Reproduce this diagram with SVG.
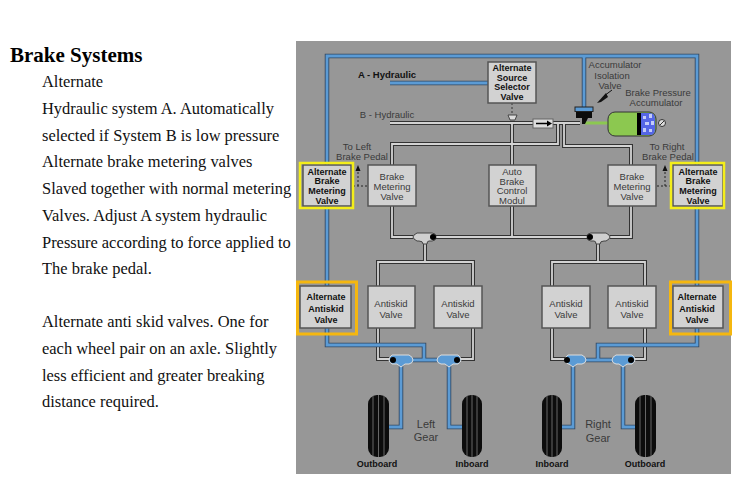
<svg xmlns="http://www.w3.org/2000/svg" width="743" height="487" viewBox="0 0 743 487">
<style>
.t{font-family:"Liberation Serif",serif;font-size:16.45px;fill:#111}
.l{font-family:"Liberation Sans",Arial,sans-serif;font-size:9.5px;fill:#3a3a3a;text-anchor:middle}
.b{font-family:"Liberation Sans",Arial,sans-serif;font-size:9px;fill:#111;text-anchor:middle;font-weight:bold}
.box{fill:#d2d2d2;stroke:#555;stroke-width:1.5}
.po{fill:none;stroke:#333;stroke-width:4}
.pi{fill:none;stroke:#d4d4d4;stroke-width:1.8}
.bo{fill:none;stroke:#33465e;stroke-width:4.5}
.bi{fill:none;stroke:#5b9bd5;stroke-width:2.8}
.yel{fill:none;stroke:#f4ee1a;stroke-width:2.5}
.amb{fill:none;stroke:#f5b70f;stroke-width:3}
.wh{fill:#0c0c0c}
.gr{stroke:#666;stroke-width:1}
.sh{fill:#cfcfcf;stroke:#444}
.sb{fill:#5b9bd5;stroke:#ddd}
</style>
<rect width="743" height="487" fill="#fff"/>
<g id="text">
<text x="10" y="62" style="font-family:'Liberation Serif',serif;font-size:21px;font-weight:bold;fill:#000">Brake Systems</text>
<text class="t" x="42" y="87">Alternate</text>
<text class="t" x="42" y="114">Hydraulic system A. Automatically</text>
<text class="t" x="42" y="141">selected if System B is low pressure</text>
<text class="t" x="42" y="167">Alternate brake metering valves</text>
<text class="t" x="42" y="194">Slaved together with normal metering</text>
<text class="t" x="42" y="221">Valves. Adjust A system hydraulic</text>
<text class="t" x="42" y="248">Pressure according to force applied to</text>
<text class="t" x="42" y="274">The brake pedal.</text>
<text class="t" x="42" y="327">Alternate anti skid valves. One for</text>
<text class="t" x="42" y="354">each wheel pair on an axle. Slightly</text>
<text class="t" x="42" y="381">less efficient and greater breaking</text>
<text class="t" x="42" y="407">distance required.</text>
</g>
<rect x="296" y="41" width="435" height="433" fill="#979797"/>
<g id="connectors">
<path class="po" d="M390 123H580M392 165V144H558V123M564 123V146H631V165M512 123V165M392 206V237H413M436 237H587M610 237H631V206M512 206V237M425 240V262M598 240V262M378 286V262H473V286M552 286V262H645V286M378 328V359H392M473 328V359H458M552 328V359H568M645 328V359H630"/>
<path class="pi" d="M390 123H580M392 165V144H558V123M564 123V146H631V165M512 123V165M392 206V237H413M436 237H587M610 237H631V206M512 206V237M425 240V262M598 240V262M378 286V262H473V286M552 286V262H645V286M378 328V359H392M473 328V359H458M552 328V359H568M645 328V359H630"/>
<path class="bo" d="M327 165V56H697V165M327 206V286M697 206V286M327 328V345H424V360H412M424 360H438M697 328V345H598V360H585M598 360H614M390 83H488M584 56V108M401 362V427H389M449 362V427H462M573 362V427H562M623 362V427H635"/>
<path class="bi" d="M327 165V56H697V165M327 206V286M697 206V286M327 328V345H424V360H412M424 360H438M697 328V345H598V360H585M598 360H614M390 83H488M584 56V108M401 362V427H389M449 362V427H462M573 362V427H562M623 362V427H635"/>
<path d="M512 103V114" stroke="#333" stroke-dasharray="2 2" fill="none"/>
<path d="M508 115H517L515 120H510Z" fill="#ddd" stroke="#444"/>
<path d="M353 186H368M358 186V169M671 186H656M665 186V169" stroke="#222" stroke-dasharray="2 2" fill="none"/>
<path d="M358 165L355.500 171H360.500ZM665 165L662.500 171H667.500Z" fill="#111"/>
<path d="M585 123H610" stroke="#8cc850" stroke-width="3"/>
<path d="M612 90L604 96" stroke="#111"/>
<path d="M606 93L597 103L601 102L608 97Z" fill="#111"/>
</g>
<g id="accumulator">
<rect x="608" y="112" width="48" height="24" rx="7" fill="#8cc850" stroke="#333"/>
<path d="M641 113H650Q655 113 655 119V129Q655 135 650 135H641Z" fill="#5566e6"/>
<path d="M643 116h3v3h-3zM649 114h3v4h-3zM645 122h4v3h-4zM651 121h3v4h-3zM643 128h3v4h-3zM649 129h3v3h-3z" fill="#c4ccf8"/>
<rect x="637" y="113" width="4" height="22" fill="#000"/>
<circle cx="662" cy="123" r="3.500" fill="#ddd" stroke="#333"/>
<path d="M660 125L664 121" stroke="#333"/>
</g>
<g id="isolation-valve">
<rect x="575" y="107" width="18" height="4.500" fill="#5b9bd5" stroke="#222"/>
<path d="M576 112H592V118H588L585 124H582V118H576Z" fill="#0c0c0c"/>
</g>
<g id="check-valve">
<rect x="533" y="119" width="20" height="9" fill="#ddd" stroke="#666"/>
<path d="M536 123.500H548" stroke="#000" stroke-width="1.500"/>
<path d="M547 120.500L552 123.500L547 126.500Z" fill="#000"/>
</g>
<g id="selector">
<rect class="box" x="488" y="62" width="48" height="41"/>
<text class="b" x="512" y="71">Alternate</text><text class="b" x="512" y="80.500">Source</text><text class="b" x="512" y="90">Selector</text><text class="b" x="512" y="100">Valve</text>
</g>
<g id="labels">
<text class="b" x="387" y="78" style="font-size:9.500px">A - Hydraulic</text>
<text class="l" x="387" y="118">B - Hydraulic</text>
<text class="l" x="357" y="150">To Left</text><text class="l" x="362" y="160">Brake Pedal</text>
<text class="l" x="615" y="68">Accumulator</text><text class="l" x="612" y="78.500">Isolation</text><text class="l" x="610" y="88.500">Valve</text>
<text class="l" x="658" y="96">Brake Pressure</text><text class="l" x="656" y="106">Accumulator</text>
<text class="l" x="667" y="150">To Right</text><text class="l" x="668" y="160">Brake Pedal</text>
<text class="l" x="426" y="428" style="font-size:11px">Left</text><text class="l" x="426" y="441" style="font-size:11px">Gear</text>
<text class="l" x="598" y="428" style="font-size:11px">Right</text><text class="l" x="598" y="442" style="font-size:11px">Gear</text>
<text class="b" x="377" y="467">Outboard</text><text class="b" x="472" y="467">Inboard</text>
<text class="b" x="552" y="467">Inboard</text><text class="b" x="645" y="467">Outboard</text>
</g>
<g id="alt-brake-left">
<rect class="box" x="303" y="165" width="48" height="41"/>
<rect class="yel" x="300" y="163" width="53" height="45"/>
<text class="b" x="327" y="174.500">Alternate</text><text class="b" x="327" y="184">Brake</text><text class="b" x="327" y="194">Metering</text><text class="b" x="327" y="203.500">Valve</text>
</g>
<g id="alt-brake-right">
<rect class="box" x="673" y="165" width="50" height="41"/>
<rect class="yel" x="671" y="163" width="53" height="45"/>
<text class="b" x="698" y="174.500">Alternate</text><text class="b" x="698" y="184">Brake</text><text class="b" x="698" y="194">Metering</text><text class="b" x="698" y="203.500">Valve</text>
</g>
<g id="metering-left">
<rect class="box" x="368" y="165" width="48" height="41"/>
<text class="l" x="392" y="180">Brake</text><text class="l" x="392" y="190">Metering</text><text class="l" x="392" y="200">Valve</text>
</g>
<g id="auto-brake">
<rect class="box" x="489" y="165" width="47" height="41"/>
<text class="l" x="512" y="175">Auto</text><text class="l" x="512" y="184.500">Brake</text><text class="l" x="512" y="194">Control</text><text class="l" x="512" y="204">Modul</text>
</g>
<g id="metering-right">
<rect class="box" x="608" y="165" width="48" height="41"/>
<text class="l" x="632" y="180">Brake</text><text class="l" x="632" y="190">Metering</text><text class="l" x="632" y="200">Valve</text>
</g>
<g id="alt-antiskid-left">
<rect class="box" x="300" y="286" width="51" height="42"/>
<rect class="amb" x="297.500" y="282" width="59" height="52"/>
<text class="b" x="326" y="300">Alternate</text><text class="b" x="326" y="311.500">Antiskid</text><text class="b" x="326" y="322.500">Valve</text>
</g>
<g id="alt-antiskid-right">
<rect class="box" x="673" y="286" width="50" height="42"/>
<rect class="amb" x="670.500" y="282" width="60" height="52"/>
<text class="b" x="697" y="300">Alternate</text><text class="b" x="697" y="311.500">Antiskid</text><text class="b" x="697" y="322.500">Valve</text>
</g>
<g id="antiskid-1"><rect class="box" x="368" y="286" width="47" height="42"/><text class="l" x="391" y="307">Antiskid</text><text class="l" x="391" y="318">Valve</text></g>
<g id="antiskid-2"><rect class="box" x="434" y="286" width="48" height="42"/><text class="l" x="458" y="307">Antiskid</text><text class="l" x="458" y="318">Valve</text></g>
<g id="antiskid-3"><rect class="box" x="542" y="286" width="48" height="42"/><text class="l" x="566" y="307">Antiskid</text><text class="l" x="566" y="318">Valve</text></g>
<g id="antiskid-4"><rect class="box" x="608" y="286" width="48" height="42"/><text class="l" x="632" y="307">Antiskid</text><text class="l" x="632" y="318">Valve</text></g>
<g id="shuttle-upper">
<path class="sh" d="M417 233H432Q436 233 436 237Q436 241 432 241H429Q427 241 427 244H423Q423 241 419 241H417Q413 239 413 237Q413 235 417 233Z"/><circle cx="433" cy="237" r="3" fill="#000"/>
<path class="sh" d="M606 233H591Q587 233 587 237Q587 241 591 241H594Q596 241 596 244H600Q600 241 604 241H606Q610 239 610 237Q610 235 606 233Z"/><circle cx="590" cy="237" r="3" fill="#000"/>
</g>
<g id="shuttle-lower">
<path class="sb" d="M392 355H409Q413 357 413 360Q413 363 409 364H405L401 367L397 364H392Q389 362 389 360Q389 357 392 355Z"/><circle cx="393" cy="360" r="3" fill="#000"/>
<path class="sb" d="M458 355H441Q437 357 437 360Q437 363 441 364H445L449 367L453 364H458Q461 362 461 360Q461 357 458 355Z"/><circle cx="457" cy="360" r="3" fill="#000"/>
<path class="sb" d="M568 355H582Q586 357 586 360Q586 363 582 364H577L573 367L569 364H568Q565 362 565 360Q565 357 568 355Z"/><circle cx="567" cy="360" r="3" fill="#000"/>
<path class="sb" d="M632 355H616Q612 357 612 360Q612 363 616 364H619L623 367L627 364H632Q635 362 635 360Q635 357 632 355Z"/><circle cx="631" cy="360" r="3" fill="#000"/>
</g>
<g id="wheels">
<rect class="wh" x="368" y="395" width="21" height="62" rx="9"/>
<rect class="wh" x="462" y="395" width="20" height="62" rx="9"/>
<rect class="wh" x="542" y="395" width="20" height="62" rx="9"/>
<rect class="wh" x="635" y="395" width="21" height="62" rx="9"/>
<path class="gr" d="M373 396V456M378.500 395V457M384 396V456M467 396V456M472 395V457M477 396V456M547 396V456M552 395V457M557 396V456M640 396V456M645.500 395V457M651 396V456"/>
</g>
</svg>
